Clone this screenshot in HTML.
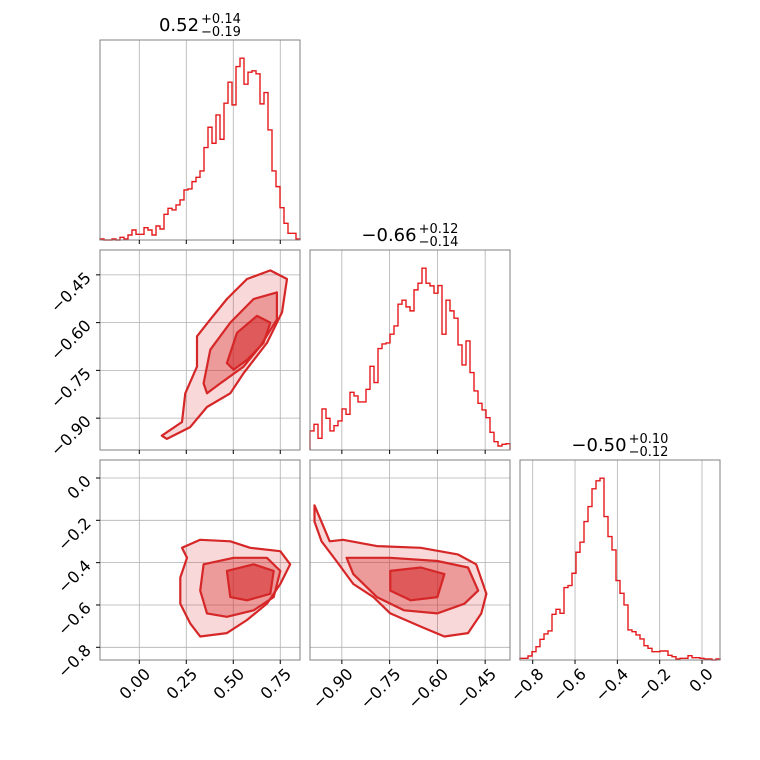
<!DOCTYPE html>
<html><head><meta charset="utf-8"><style>
html,body{margin:0;padding:0;background:#fff;width:760px;height:760px;overflow:hidden}
svg text{font-family:"DejaVu Sans","Liberation Sans",sans-serif;fill:#000}
</style></head><body>
<svg id="chart" width="760" height="760" viewBox="0 0 760 760" xmlns="http://www.w3.org/2000/svg"></svg>
<script>
// ---- data ----
const paramNames = ["p0","p1","p2"];
const rangeP0 = [-0.209, 0.855];
const rangeP1 = [-1.0, -0.372];
const rangeP2 = [-0.86, 0.085];
const ticksP0 = [0.00, 0.25, 0.50, 0.75];
const tickLabelsP0 = ["0.00","0.25","0.50","0.75"];
const ticksP1 = [-0.90, -0.75, -0.60, -0.45];
const tickLabelsP1 = ["\u22120.90","\u22120.75","\u22120.60","\u22120.45"];
const ticksP2 = [-0.8, -0.6, -0.4, -0.2, 0.0];
const tickLabelsP2 = ["\u22120.8","\u22120.6","\u22120.4","\u22120.2","0.0"];
const titleMedians = ["0.52","\u22120.66","\u22120.50"];
const titlePlus = ["+0.14","+0.12","+0.10"];
const titleMinus = ["\u22120.19","\u22120.14","\u22120.12"];
// histogram counts (50 bins each)
const histP0 = [3,0,0,3,0,8,3,15,30,17,17,37,30,15,42,33,77,95,90,105,120,150,153,175,188,207,277,338,290,375,302,410,473,405,520,545,467,503,507,498,408,442,330,207,160,97,50,20,20,3];
const histP1 = [57,77,35,123,95,57,73,87,123,107,173,162,144,144,182,251,202,304,318,321,347,372,437,449,429,417,480,500,545,500,492,470,493,347,449,417,395,315,255,327,232,177,140,120,97,53,25,12,17,19];
const histP2 = [5,5,12,25,40,62,78,87,137,152,140,217,223,260,323,353,415,460,513,537,545,430,370,330,238,200,165,90,85,75,63,43,35,25,25,27,27,14,10,3,5,5,13,7,7,5,3,3,0,3];
// 2D contour levels (outer, middle, inner) in data units
const c01OuterX = [0.12,0.227,0.245,0.307,0.307,0.378,0.466,0.573,0.697,0.786,0.759,0.679,0.555,0.484,0.36,0.271,0.147];
const c01OuterY = [-0.955,-0.912,-0.822,-0.738,-0.643,-0.59,-0.526,-0.463,-0.436,-0.463,-0.568,-0.664,-0.759,-0.822,-0.865,-0.928,-0.965];
const c01MidX = [0.342,0.378,0.484,0.608,0.732,0.732,0.644,0.555,0.431,0.36];
const c01MidY = [-0.791,-0.685,-0.6,-0.526,-0.505,-0.59,-0.674,-0.738,-0.791,-0.822];
const c01InX = [0.466,0.52,0.626,0.697,0.661,0.573,0.502];
const c01InY = [-0.727,-0.632,-0.579,-0.6,-0.664,-0.717,-0.748];
const c02OuterX = [0.227,0.324,0.484,0.59,0.75,0.803,0.75,0.679,0.573,0.466,0.324,0.271,0.218,0.218,0.254];
const c02OuterY = [-0.33,-0.292,-0.299,-0.33,-0.346,-0.408,-0.501,-0.594,-0.671,-0.733,-0.749,-0.687,-0.594,-0.47,-0.377];
const c02MidX = [0.342,0.502,0.679,0.75,0.715,0.608,0.466,0.36,0.324];
const c02MidY = [-0.408,-0.377,-0.377,-0.439,-0.563,-0.625,-0.656,-0.64,-0.532];
const c02InX = [0.466,0.608,0.715,0.697,0.573,0.484];
const c02InY = [-0.439,-0.408,-0.439,-0.547,-0.578,-0.563];
const c12OuterX = [-0.986,-0.938,-0.896,-0.79,-0.652,-0.536,-0.478,-0.446,-0.462,-0.504,-0.578,-0.652,-0.748,-0.801,-0.864,-0.917,-0.964,-0.986];
const c12OuterY = [-0.129,-0.299,-0.292,-0.322,-0.33,-0.361,-0.408,-0.547,-0.64,-0.733,-0.749,-0.702,-0.64,-0.563,-0.501,-0.392,-0.299,-0.206];
const c12MidX = [-0.885,-0.748,-0.6,-0.504,-0.472,-0.515,-0.6,-0.705,-0.79,-0.864];
const c12MidY = [-0.377,-0.377,-0.392,-0.423,-0.532,-0.594,-0.64,-0.625,-0.563,-0.454];
const c12InX = [-0.748,-0.652,-0.578,-0.6,-0.684,-0.748];
const c12InY = [-0.439,-0.423,-0.454,-0.563,-0.578,-0.532];

// ---- layout ----
const NS = "http://www.w3.org/2000/svg";
const svg = document.getElementById("chart");
const colX = [100,310,520], rowY = [40,250,460], S = 200;
const ranges = [rangeP0, rangeP1, rangeP2];
const ticks = [ticksP0, ticksP1, ticksP2];
const tickLabels = [tickLabelsP0, tickLabelsP1, tickLabelsP2];
const hists = [histP0, histP1, histP2];
const RED = "#d62728";

function mk(tag, attrs, parent){ const e=document.createElementNS(NS,tag); for(const k in attrs) e.setAttribute(k,attrs[k]); (parent||svg).appendChild(e); return e; }
function sx(i, v, col){ const r=ranges[i]; return colX[col] + (v-r[0])/(r[1]-r[0])*S; }
function sy(i, v, row){ const r=ranges[i]; return rowY[row] + S - (v-r[0])/(r[1]-r[0])*S; }

function drawContour(g, xs, ys, ix, iy, col, row, fill, name){
  const pts = xs.map((v,k)=> sx(ix,v,col).toFixed(1)+","+sy(iy,ys[k],row).toFixed(1)).join(" ");
  const p = mk("polygon",{points:pts, fill:fill, stroke:RED, "stroke-width":2.2, "stroke-linejoin":"round"}, g);
  
  
}

for(let row=0; row<3; row++){
  for(let col=0; col<=row; col++){
    const g = mk("g",{});
    
    
    const x0=colX[col], y0=rowY[row];
    ticks[col].forEach(t=>{ const X=sx(col,t,col); mk("line",{x1:X,x2:X,y1:y0,y2:y0+S,stroke:"#b0b0b0","stroke-width":0.8},g); });
    if(col!==row){ ticks[row].forEach(t=>{ const Y=sy(row,t,row); mk("line",{x1:x0,x2:x0+S,y1:Y,y2:Y,stroke:"#b0b0b0","stroke-width":0.8},g); }); }
    if(col===row){
      const h = hists[col], n=h.length, mx=Math.max(...h)*1.1, r=ranges[col];
      let d="";
      h.forEach((c,k)=>{ const xa=sx(col, r[0]+(r[1]-r[0])*k/n, col), xb=sx(col, r[0]+(r[1]-r[0])*(k+1)/n, col); const Y=y0+S-c/mx*S; d += (k===0?"M"+xa+","+(y0+S)+" L":" L")+xa+","+Y+" L"+xb+","+Y; });
      d += " L"+(x0+S)+","+(y0+S);
      const p = mk("path",{d:d,fill:"none",stroke:"#e41a1c","stroke-width":1.4},g);
      
      
      // title
      const cx = x0+S/2;
      const t = mk("text",{x:cx-43,y:y0-9,"font-size":18});
      t.textContent = titleMedians[col];
      
      
      let w = 0; try { w = t.getComputedTextLength(); } catch(e) { w = titleMedians[col].length*11; }
      const total = w + 2 + 40;
      const sx0 = cx - total/2;
      t.setAttribute("x", sx0);
      const tp = mk("text",{x:sx0+w+2,y:y0-17,"font-size":13}); tp.textContent=titlePlus[col];
      
      
      const tm = mk("text",{x:sx0+w+2,y:y0-4,"font-size":13}); tm.textContent=titleMinus[col];
      
      
    } else {
      const key = ""+col+row;
      const sets = {"01":[c01OuterX,c01OuterY,c01MidX,c01MidY,c01InX,c01InY],"02":[c02OuterX,c02OuterY,c02MidX,c02MidY,c02InX,c02InY],"12":[c12OuterX,c12OuterY,c12MidX,c12MidY,c12InX,c12InY]}[key];
      drawContour(g, sets[0], sets[1], col, row, col, row, "rgba(214,39,40,0.18)", "contour-outer-"+key);
      drawContour(g, sets[2], sets[3], col, row, col, row, "rgba(214,39,40,0.35)", "contour-middle-"+key);
      drawContour(g, sets[4], sets[5], col, row, col, row, "rgba(214,39,40,0.55)", "contour-inner-"+key);
    }
    mk("rect",{x:x0,y:y0,width:S,height:S,fill:"none",stroke:"#808080","stroke-width":1},g);
    ticks[col].forEach((t,k)=>{ const X=sx(col,t,col); mk("line",{x1:X,x2:X,y1:y0+S,y2:y0+S+4,stroke:"#000","stroke-width":1},g);
      if(row===2){ const ax=X+12, ay=y0+S+15; const tx = mk("text",{x:ax,y:ay,"font-size":16,"text-anchor":"end",transform:"rotate(-45 "+ax+" "+ay+")"},g); tx.textContent=tickLabels[col][k];
        
         } });
    if(col===0 && row>0){ ticks[row].forEach((t,k)=>{ const Y=sy(row,t,row); mk("line",{x1:x0-4,x2:x0,y1:Y,y2:Y,stroke:"#000","stroke-width":1},g);
      const ax=x0-8, ay=Y+4; const ty = mk("text",{x:ax,y:ay,"font-size":16,"text-anchor":"end",transform:"rotate(-45 "+ax+" "+ay+")"},g); ty.textContent=tickLabels[row][k];
      
       }); }
  }
}
</script>
</body></html>
